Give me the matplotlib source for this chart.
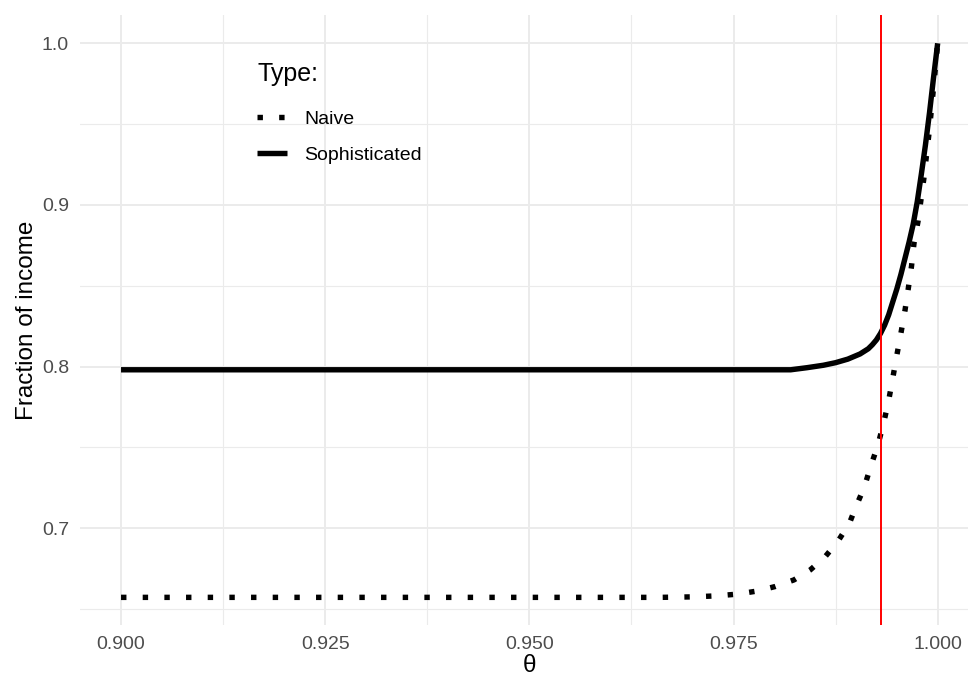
import numpy as np
import matplotlib
matplotlib.use("Agg")
import matplotlib.pyplot as plt
from matplotlib.ticker import FormatStrFormatter

# ---- data -----------------------------------------------------------------
soph_x = [0.900, 0.9820, 0.9840, 0.9860, 0.9875, 0.9890, 0.9905, 0.9915,
          0.9920, 0.9925, 0.9930, 0.9935, 0.9940, 0.9945, 0.9950, 0.9955,
          0.9960, 0.9965, 0.9970, 0.9975, 0.9980, 0.9985, 0.9990, 0.9995,
          1.000]
soph_y = [0.798, 0.798, 0.7993, 0.8008, 0.8024, 0.8046, 0.8078, 0.8110,
          0.8135, 0.8165, 0.8205, 0.8256, 0.8320, 0.8400, 0.8480, 0.8570,
          0.8670, 0.8770, 0.8880, 0.9020, 0.9190, 0.9370, 0.9570, 0.9790,
          1.000]

naive_x = [0.900, 0.966, 0.9700, 0.9728, 0.9755, 0.9780, 0.9801, 0.9824,
           0.9844, 0.9862, 0.9878, 0.9892, 0.9899, 0.9910, 0.9918, 0.9927,
           0.9934, 0.9940, 0.9945, 0.9950, 0.9955, 0.9960, 0.9964, 0.9968,
           0.9971, 0.9976, 0.9983, 0.9990, 0.9996, 1.000]
naive_y = [0.6572, 0.6572, 0.6575, 0.6581, 0.6592, 0.6612, 0.6639, 0.668,
           0.6742, 0.6822, 0.692, 0.7031, 0.7122, 0.7252, 0.7382, 0.7518,
           0.7654, 0.779, 0.7928, 0.807, 0.8206, 0.8348, 0.8482, 0.8622,
           0.8762, 0.890, 0.916, 0.947, 0.978, 1.000]

theta_cut = 0.993
x_ticks = [0.900, 0.925, 0.950, 0.975, 1.000]
x_minor = [0.9125, 0.9375, 0.9625, 0.9875]
y_ticks = [0.7, 0.8, 0.9, 1.0]
y_minor = [0.65, 0.75, 0.85, 0.95]

# ---- figure -----------------------------------------------------------------
plt.rcParams['font.family'] = ['Liberation Sans', 'DejaVu Sans']

fig = plt.figure(figsize=(9.68, 6.8), dpi=100)
ax = fig.add_axes([80.2 / 968, 55 / 680, 898.3 / 968, 610 / 680])

lw = 3.9
ax.plot(naive_x, naive_y, color="black", lw=lw, ls=(0, (1, 3)),
        dash_capstyle="butt", label="Naive")
ax.plot(soph_x, soph_y, color="black", lw=lw, solid_capstyle="butt",
        solid_joinstyle="round", label="Sophisticated")
ax.axvline(theta_cut, color="#FF0000", lw=1.4)

ax.set_xlim(0.895, 1.005)
ax.set_ylim(0.6401, 1.0175)
ax.set_xticks(x_ticks)
ax.set_xticks(x_minor, minor=True)
ax.set_yticks(y_ticks)
ax.set_yticks(y_minor, minor=True)
ax.xaxis.set_major_formatter(FormatStrFormatter("%.3f"))
ax.yaxis.set_major_formatter(FormatStrFormatter("%.1f"))

ax.grid(which="major", color="#EBEBEB", lw=1.4)
ax.grid(which="minor", color="#EBEBEB", lw=0.8)
ax.set_axisbelow(True)
for s in ax.spines.values():
    s.set_visible(False)
ax.tick_params(which="both", length=0, labelsize=14, labelcolor="#4D4D4D", pad=8)

ax.set_xlabel("θ", fontsize=17.5, labelpad=1)
ax.set_ylabel("Fraction of income", fontsize=17.5, labelpad=3)

leg = ax.legend(title="Type:", loc="upper left",
                bbox_to_anchor=(224 / 968, 1 - 29 / 680),
                bbox_transform=fig.transFigure, frameon=False,
                fontsize=14, title_fontsize=18, handlelength=1.55,
                handletextpad=0.88, labelspacing=0.95, borderpad=1.2,
                alignment="left")
# a bit more room between the legend title and its entries, as in ggplot
leg._legend_box.sep = 17.6

fig.savefig("out.png", dpi=100)
